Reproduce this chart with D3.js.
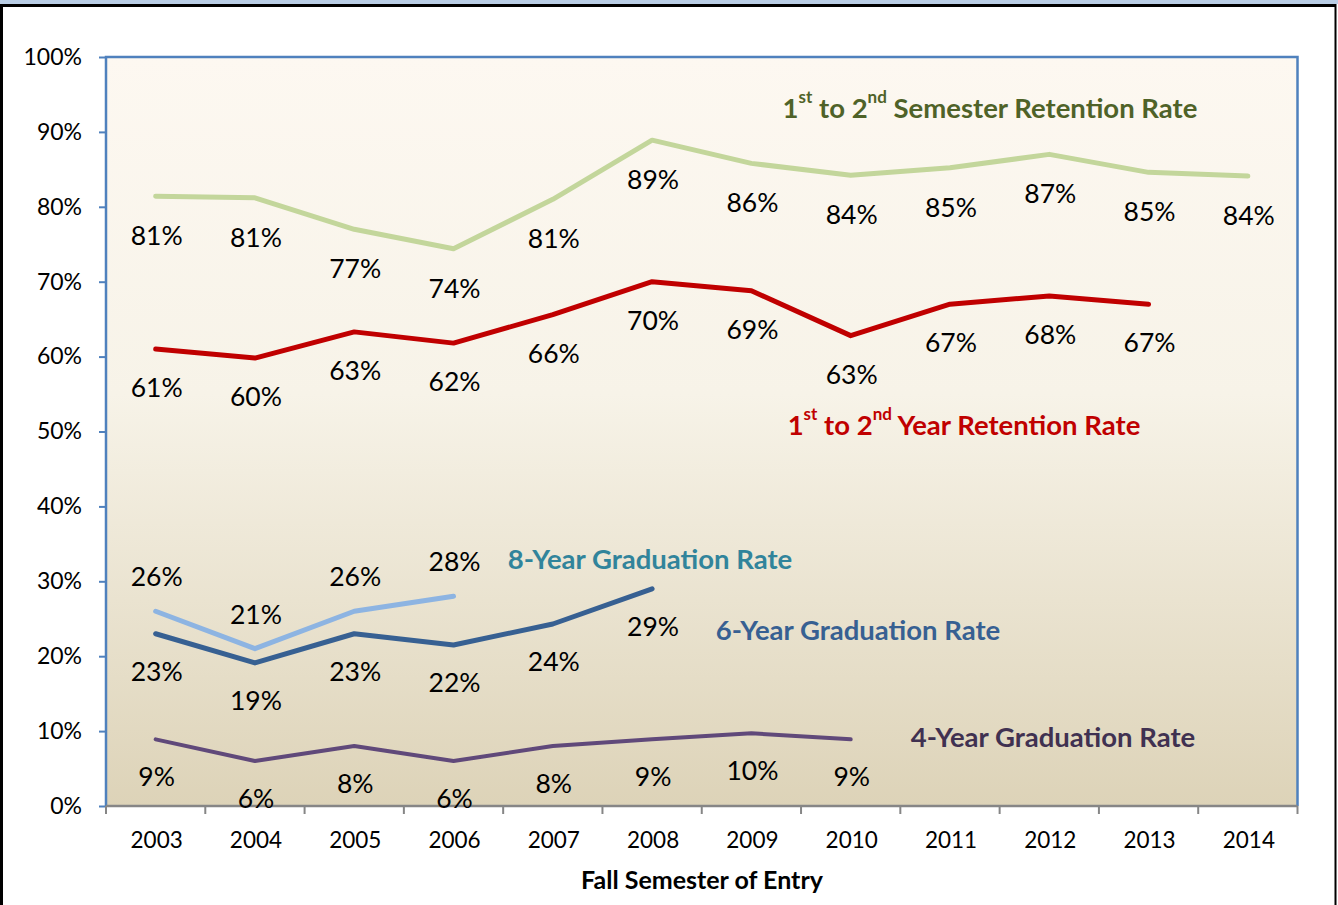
<!DOCTYPE html>
<html>
<head>
<meta charset="utf-8">
<script src="https://cdn.jsdelivr.net/npm/d3@7"></script>
<style>
  html, body { margin: 0; padding: 0; background: #fff; }
  svg { display: block; font-family: Lato, "Open Sans", sans-serif; }
</style>
</head>
<body>
<svg id="chart" width="1338" height="905"></svg>
<script>
// Fall semester of entry
const years = ["2003","2004","2005","2006","2007","2008","2009","2010","2011","2012","2013","2014"];

// Rates in percent (null = not yet available)
const semesterRetention = [81.4, 81.2, 77.0, 74.4, 81.0, 88.9, 85.8, 84.2, 85.2, 87.0, 84.6, 84.1];
const yearRetention     = [61.0, 59.8, 63.3, 61.8, 65.6, 70.0, 68.8, 62.8, 67.0, 68.1, 67.0, null];
const grad8             = [26.0, 21.0, 26.0, 28.0, null, null, null, null, null, null, null, null];
const grad6             = [23.0, 19.1, 23.0, 21.5, 24.3, 29.0, null, null, null, null, null, null];
const grad4             = [8.9, 6.0, 8.0, 6.0, 8.0, 8.9, 9.7, 8.9, null, null, null, null];

const yTicks = [0, 10, 20, 30, 40, 50, 60, 70, 80, 90, 100];

const svg = d3.select("#chart");
const W = 1338, H = 905;
const m = { left: 106, top: 57, right: 1297.5, bottom: 806 };

// frame
svg.append("rect").attr("x", 0).attr("y", 0).attr("width", W).attr("height", 4).attr("fill", "#b9cde5");
svg.append("rect").attr("x", 1.5).attr("y", 5.5).attr("width", W - 3).attr("height", H)
  .attr("fill", "#fff").attr("stroke", "#000").attr("stroke-width", 3);
svg.append("rect").attr("x", 1335.5).attr("y", 4).attr("width", 3).attr("height", H).attr("fill", "#fff");
svg.append("line").attr("x1", 1335.5).attr("x2", 1335.5).attr("y1", 4).attr("y2", H)
  .attr("stroke", "#000").attr("stroke-width", 2);

// plot background gradient
const defs = svg.append("defs");
const grad = defs.append("linearGradient").attr("id", "bg").attr("x1", 0).attr("y1", 0).attr("x2", 0).attr("y2", 1);
grad.append("stop").attr("offset", "0%").attr("stop-color", "#fdf8f1");
grad.append("stop").attr("offset", "45%").attr("stop-color", "#f7f3e8");
grad.append("stop").attr("offset", "100%").attr("stop-color", "#ddd3b8");

const x = d3.scaleBand().domain(years).range([m.left, m.right]).padding(0);
const y = d3.scaleLinear().domain([0, 100]).range([m.bottom, m.top]);

svg.append("rect").attr("x", m.left).attr("y", m.top)
  .attr("width", m.right - m.left).attr("height", m.bottom - m.top).attr("fill", "url(#bg)");

// plot border (left/top/right)
svg.append("path")
  .attr("d", `M${m.left},${m.bottom}V${m.top}H${m.right}V${m.bottom}`)
  .attr("fill", "none").attr("stroke", "#4f81bd").attr("stroke-width", 2.5);

// y axis
const yAxis = d3.axisLeft(y).tickValues(yTicks).tickFormat(d => d + "%").tickSize(7).tickPadding(17);
const gy = svg.append("g").attr("transform", `translate(${m.left},0)`).call(yAxis);
gy.select(".domain").remove();
gy.selectAll(".tick line").attr("stroke", "#4f81bd").attr("stroke-width", 2);
gy.selectAll(".tick text").attr("fill", "#000").style("font-size", "23px").style("font-family", "Lato, sans-serif");

// x axis (ticks at category boundaries)
const gx = svg.append("g").attr("transform", `translate(0,${m.bottom})`);
gx.append("line").attr("x1", m.left).attr("x2", m.right).attr("stroke", "#868686").attr("stroke-width", 2.5);
const bounds = years.map(d => x(d)).concat([m.right]);
gx.selectAll("line.tk").data(bounds).join("line").attr("class", "tk")
  .attr("x1", d => d).attr("x2", d => d).attr("y1", 0).attr("y2", 8)
  .attr("stroke", "#868686").attr("stroke-width", 2);
gx.selectAll("text").data(years).join("text")
  .attr("x", d => x(d) + x.bandwidth() / 2 + 1).attr("y", 42)
  .attr("text-anchor", "middle").style("font-size", "22.5px").attr("fill", "#000")
  .text(d => d);

svg.append("text").attr("x", 702).attr("y", 889).attr("text-anchor", "middle")
  .style("font-size", "25px").style("font-weight", "bold").attr("fill", "#000")
  .text("Fall Semester of Entry");

const cx = i => x(years[i]) + x.bandwidth() / 2;
const fmt = v => d3.format(".0f")(v) + "%";

function series(vals, color, width, labelDy) {
  const pts = vals.map((v, i) => ({ v, i })).filter(d => d.v != null);
  const line = d3.line().x(d => cx(d.i)).y(d => y(d.v));
  svg.append("path").datum(pts).attr("d", line)
    .attr("fill", "none").attr("stroke", color).attr("stroke-width", width)
    .attr("stroke-linecap", "round").attr("stroke-linejoin", "round");
  svg.append("g").selectAll("text").data(pts).join("text")
    .attr("x", d => cx(d.i) + 1).attr("y", d => y(d.v) + labelDy)
    .attr("text-anchor", "middle").attr("dominant-baseline", "central")
    .style("font-size", "26.5px").attr("fill", "#000")
    .text(d => fmt(d.v));
}

series(semesterRetention, "#c3d69b", 5, 39);
series(yearRetention, "#c00000", 5, 38);
series(grad8, "#8db4e2", 5, -35);
series(grad6, "#376092", 5, 37);
series(grad4, "#60497a", 4, 37);

// series names placed beside their lines
function seriesName(cxPos, cy, color, parts) {
  const t = svg.append("text").attr("x", cxPos).attr("y", cy)
    .attr("text-anchor", "middle").attr("dominant-baseline", "central")
    .style("font-size", "27.5px").style("font-weight", "bold").attr("fill", color);
  parts.forEach(p => {
    const ts = t.append("tspan").text(p.t);
    if (p.sup) ts.style("font-size", "17px").attr("baseline-shift", "super");
  });
}

seriesName(990, 107, "#4f6228", [{ t: "1" }, { t: "st", sup: true }, { t: " to 2" }, { t: "nd", sup: true }, { t: " Semester Retention Rate" }]);
seriesName(964, 424, "#c00000", [{ t: "1" }, { t: "st", sup: true }, { t: " to 2" }, { t: "nd", sup: true }, { t: " Year Retention Rate" }]);
seriesName(650, 558, "#31849b", [{ t: "8-Year Graduation Rate" }]);
seriesName(858, 629, "#376092", [{ t: "6-Year Graduation Rate" }]);
seriesName(1053, 736, "#403151", [{ t: "4-Year Graduation Rate" }]);
</script>
</body>
</html>
